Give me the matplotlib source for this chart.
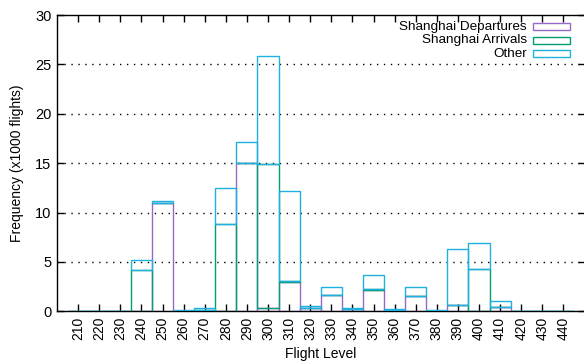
import numpy as np
import matplotlib
matplotlib.use("Agg")
import matplotlib.pyplot as plt
from matplotlib.patches import Rectangle

plt.rcParams["font.family"] = ["Liberation Sans", "DejaVu Sans"]

levels = [210, 220, 230, 240, 250, 260, 270, 280, 290, 300, 310, 320,
          330, 340, 350, 360, 370, 380, 390, 400, 410, 420, 430, 440]
departures = [0.0, 0.0, 0.0, 0.0, 10.95, 0.02, 0.05, 0.0, 15.0, 0.35, 3.0, 0.3,
              1.6, 0.2, 2.2, 0.1, 1.5, 0.05, 0.6, 0.0, 0.4, 0.0, 0.0, 0.0]
arrivals = [0.05, 0.03, 0.05, 4.2, 0.05, 0.05, 0.1, 8.8, 0.05, 14.6, 0.05, 0.05,
            0.05, 0.05, 0.05, 0.05, 0.05, 0.02, 0.05, 4.25, 0.05, 0.01, 0.02, 0.0]
other = [0.0, 0.02, 0.0, 1.04, 0.15, 0.03, 0.15, 3.7, 2.05, 10.85, 9.1, 0.18,
         0.8, 0.05, 1.47, 0.05, 0.87, 0.06, 5.62, 2.65, 0.55, 0.01, 0.03, 0.01]

series = [("Shanghai Departures", departures, "#9468c4"),
          ("Shanghai Arrivals", arrivals, "#009e73"),
          ("Other", other, "#20b0e0")]

fig = plt.figure(figsize=(5.84, 3.63), dpi=100)
ax = fig.add_axes([57 / 584, 1 - 311.3 / 363, 527.5 / 584, 296.3 / 363])

x = np.arange(len(levels))
bottom = np.zeros(len(levels))
for label, vals, col in series:
    vals = np.asarray(vals)
    ax.bar(x, vals, width=1.0, bottom=bottom, fill=False, edgecolor=col,
           linewidth=1.0, zorder=3)
    bottom += vals

ax.set_xlim(-1, 24)
ax.set_ylim(0, 30)
ax.set_xticks(x)
ax.set_xticklabels([str(v) for v in levels], rotation=90, fontsize=10)
ax.set_yticks(np.arange(0, 31, 5))
ax.tick_params(axis="y", labelsize=10.5)
ax.tick_params(direction="in", length=5, width=1, top=True, right=True, pad=4)
for y in range(5, 30, 5):
    ax.axhline(y, color="black", linestyle=(0, (1, 4)), linewidth=1.0, zorder=1)
for s in ax.spines.values():
    s.set_linewidth(1.0)

ax.set_xlabel("Flight Level", fontsize=10, labelpad=5)
ax.set_ylabel("Frequency (x1000 flights)", fontsize=10, labelpad=8)

# key in the top-right corner: label text, then an empty sample box
key_rows = [0.960, 0.914, 0.868]
for (label, vals, col), yk in zip(series, key_rows):
    ax.text(0.891, yk, label, transform=ax.transAxes, ha="right", va="center",
            fontsize=9.7, zorder=5)
    ax.add_patch(Rectangle((0.903, yk - 0.011), 0.070, 0.024, transform=ax.transAxes,
                           fill=False, edgecolor=col, linewidth=1.0, zorder=5))

fig.savefig("out.png", dpi=100, facecolor="white")
